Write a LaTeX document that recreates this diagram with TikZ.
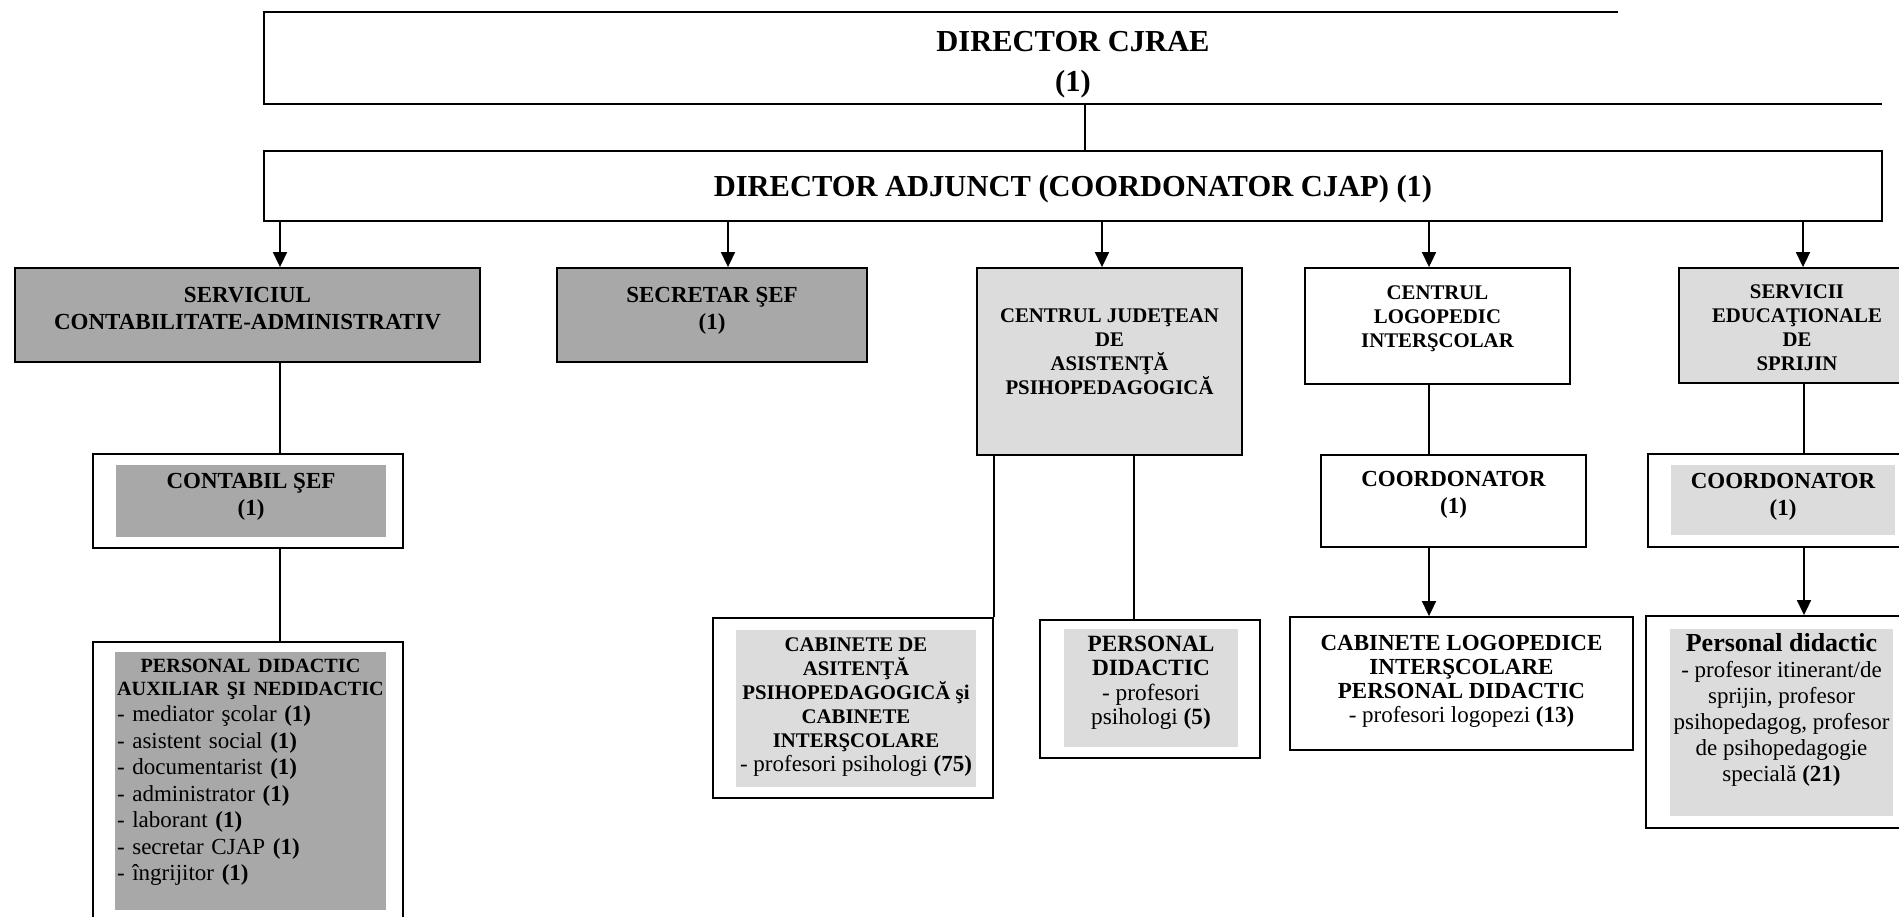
\documentclass[tikz,border=0pt]{standalone}
\usepackage{fontspec}
\setmainfont{Liberation Serif}
\usepackage{xcolor}
\usepackage{tikz}
\usetikzlibrary{arrows.meta}

\definecolor{darkfill}{HTML}{A8A8A8}
\definecolor{lightfill}{HTML}{DCDCDC}

\begin{document}
\begin{tikzpicture}[
  x=1pt, y=-1pt,
  box/.style={draw, line width=1.8pt, inner sep=0pt},
  patch/.style={inner sep=0pt},
  txt/.style={inner sep=0pt, align=center},
  big/.style={font=\bfseries\fontsize{30.5}{40}\selectfont},
  head/.style={font=\bfseries\fontsize{23}{27}\selectfont},
  small/.style={font=\bfseries\fontsize{20.8}{24}\selectfont},
  plain/.style={font=\fontsize{23}{26}\selectfont},
  line/.style={line width=1.6pt},
  arrow/.style={line width=1.6pt, -{Triangle[length=15pt,width=14pt]}}
]
\useasboundingbox (0,0) rectangle (1899,917);

% Director
\node[patch, minimum width=1618pt, minimum height=92pt] (cjrae) at (1073,58) {};
\node[txt, big] (cjraetxt) at ([yshift=-7pt]cjrae) {DIRECTOR CJRAE\\(1)};
\draw[line width=1.8pt] ([xshift=545pt]cjrae.north) -- (cjrae.north west) -- (cjrae.south west) -- (cjrae.south east);

% Director adjunct
\node[box, minimum width=1618pt, minimum height=70pt] (adj) at (1073,186) {};
\node[txt, big] (adjtxt) at ([yshift=-3pt]adj) {DIRECTOR ADJUNCT (COORDONATOR CJAP) (1)};

% Second row
\node[box, fill=darkfill, minimum width=465pt, minimum height=94pt] (serv) at (247.5,315) {};
\node[txt, head] (servtxt) at ([yshift=6pt]serv) {SERVICIUL\\CONTABILITATE-ADMINISTRATIV};
\node[box, fill=darkfill, minimum width=310pt, minimum height=94pt] (secr) at (712,315) {};
\node[txt, head] (secrtxt) at ([yshift=4pt]secr) {SECRETAR ŞEF\\(1)};
\node[box, fill=lightfill, minimum width=265pt, minimum height=187pt] (cjap) at (1109.5,361.5) {};
\node[txt, small] (cjaptxt) at ([yshift=10pt]cjap) {CENTRUL JUDEŢEAN\\DE\\ASISTENŢĂ\\PSIHOPEDAGOGICĂ};
\node[box, fill=white, minimum width=265pt, minimum height=116pt] (clog) at (1437.5,326) {};
\node[txt, small] (clogtxt) at ([yshift=7.5pt]clog) {CENTRUL\\LOGOPEDIC\\INTERŞCOLAR};
\node[box, fill=lightfill, minimum width=236pt, minimum height=115pt] (sesp) at (1797,325.5) {};
\node[txt, small] (sesptxt) at ([yshift=-2pt]sesp) {SERVICII\\EDUCAŢIONALE\\DE\\SPRIJIN};

% Coordonatori
\node[box, fill=white, minimum width=310pt, minimum height=94pt] (contab) at (248,501) {};
\node[patch, fill=darkfill, minimum width=270pt, minimum height=72pt] (contabin) at (251,501) {};
\node[txt, head] (contabtxt) at ([yshift=4pt]contabin) {CONTABIL ŞEF\\(1)};
\node[box, fill=white, minimum width=265pt, minimum height=92pt] (coord1) at (1453.5,501) {};
\node[txt, head] (coord1txt) at ([yshift=6pt]coord1) {COORDONATOR\\(1)};
\node[box, fill=white, minimum width=270pt, minimum height=93pt] (coord2) at (1783,500.5) {};
\node[patch, fill=lightfill, minimum width=224pt, minimum height=70pt] (coord2in) at (1783,500) {};
\node[txt, head] (coord2txt) at ([yshift=3pt]coord2in) {COORDONATOR\\(1)};

% Personal
\node[box, fill=white, minimum width=310pt, minimum height=293pt] (persaux) at (248,788.5) {};
\node[patch, fill=darkfill, minimum width=271pt, minimum height=258pt] (persauxin) at (250.5,781) {};
\node[txt, text width=267pt, align=left, font=\fontsize{23}{26.5}\selectfont] (persauxtxt) at ([yshift=8.5pt]persauxin) {{\centering\bfseries\fontsize{20.2}{23}\selectfont PERSONAL DIDACTIC\\AUXILIAR ŞI NEDIDACTIC\par}- mediator şcolar \textbf{(1)}\\- asistent social \textbf{(1)}\\- documentarist \textbf{(1)}\\- administrator \textbf{(1)}\\- laborant \textbf{(1)}\\- secretar CJAP \textbf{(1)}\\- îngrijitor \textbf{(1)}};

\node[box, fill=white, minimum width=280pt, minimum height=180pt] (cab) at (853,708) {};
\node[patch, fill=lightfill, minimum width=240pt, minimum height=157pt] (cabin) at (856,708.5) {};
\node[txt, small] (cabtxt) at ([yshift=1.5pt]cabin) {CABINETE DE\\ASITENŢĂ\\PSIHOPEDAGOGICĂ şi\\CABINETE\\INTERŞCOLARE\\{\mdseries\fontsize{23}{24}\selectfont - profesori psihologi \textbf{(75)}}};

\node[box, fill=white, minimum width=220pt, minimum height=138pt] (psih) at (1150,689) {};
\node[patch, fill=lightfill, minimum width=174pt, minimum height=118pt] (psihin) at (1151,688) {};
\node[txt, font=\bfseries\fontsize{23.3}{24.5}\selectfont] (psihtxt) at ([yshift=5pt]psihin) {PERSONAL\\DIDACTIC\\{\mdseries - profesori}\\{\mdseries psihologi \textbf{(5)}}};

\node[box, fill=white, minimum width=343pt, minimum height=133pt] (cablog) at (1461.5,683.5) {};
\node[txt, font=\fontsize{23}{24}\selectfont] (cablogtxt) at ([yshift=2pt]cablog) {\textbf{CABINETE LOGOPEDICE}\\\textbf{INTERŞCOLARE}\\\textbf{PERSONAL DIDACTIC}\\- profesori logopezi \textbf{(13)}};

\node[box, fill=white, minimum width=271pt, minimum height=212pt] (pd) at (1781.5,722) {};
\node[patch, fill=lightfill, minimum width=223pt, minimum height=187pt] (pdin) at (1781.5,722.5) {};
\node[txt, plain] (pdtxt) at ([yshift=13pt]pdin) {{\bfseries\fontsize{26}{29}\selectfont Personal didactic}\\- profesor itinerant/de\\sprijin, profesor\\psihopedagog, profesor\\de psihopedagogie\\specială \textbf{(21)}};

% Arrows
\draw[line] ([xshift=12pt]cjrae.south) -- ([xshift=12pt]adj.north);
\draw[arrow] ([xshift=32.5pt]serv.north |- adj.south) -- ([xshift=32.5pt]serv.north);
\draw[arrow] ([xshift=16pt]secr.north |- adj.south) -- ([xshift=16pt]secr.north);
\draw[arrow] ([xshift=-7.5pt]cjap.north |- adj.south) -- ([xshift=-7.5pt]cjap.north);
\draw[arrow] ([xshift=-8.5pt]clog.north |- adj.south) -- ([xshift=-8.5pt]clog.north);
\draw[arrow] ([xshift=6pt]sesp.north |- adj.south) -- ([xshift=6pt]sesp.north);

\draw[line] ([xshift=32.5pt]serv.south) -- ([xshift=32pt]contab.north);
\draw[line] ([xshift=32pt]contab.south) -- ([xshift=32pt]persaux.north);
\draw[line] (cab.north east |- cjap.south) -- (cab.north east);
\draw[line] ([xshift=-16pt]psih.north |- cjap.south) -- ([xshift=-16pt]psih.north);
\draw[line] ([xshift=-8.5pt]clog.south) -- ([xshift=-8.5pt]clog.south |- coord1.north);
\draw[arrow] ([xshift=-24.5pt]coord1.south) -- ([xshift=-24.5pt]coord1.south |- cablog.north);
\draw[line] ([xshift=7pt]sesp.south) -- ([xshift=7pt]sesp.south |- coord2.north);
\draw[arrow] ([xshift=21pt]coord2.south) -- ([xshift=21pt]coord2.south |- pd.north);

\end{tikzpicture}
\end{document}
